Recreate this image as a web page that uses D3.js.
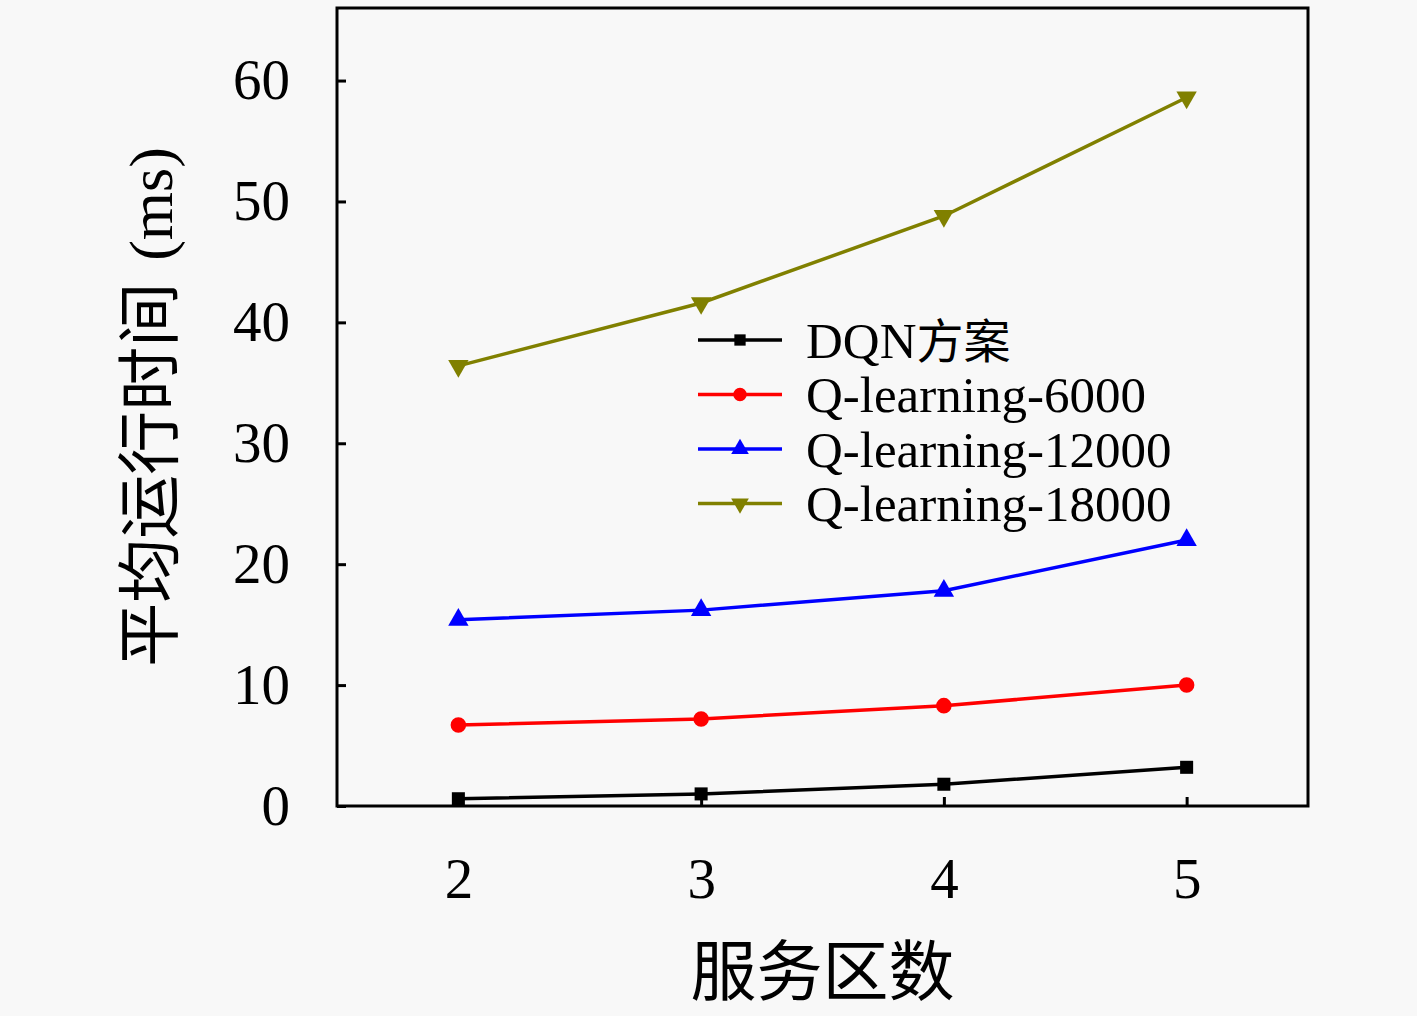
<!DOCTYPE html>
<html>
<head>
<meta charset="utf-8">
<script src="https://cdn.jsdelivr.net/npm/d3@7"></script>
<style>
  body { margin: 0; background: #f8f8f8; }
  svg { display: block; }
  .tick-label { font-family: "Liberation Serif", "DejaVu Serif", serif; fill: #000; }
  .cjk { font-family: "Noto Sans CJK SC", sans-serif; fill: #000; }
</style>
</head>
<body>
<div id="chart"></div>
<script>
// Data
var categories = [2, 3, 4, 5];
var dqnValues = [0.6, 1.0, 1.8, 3.2];
var q6000Values = [6.7, 7.2, 8.3, 10.0];
var q12000Values = [15.4, 16.2, 17.8, 22.0];
var q18000Values = [36.4, 41.6, 48.8, 58.6];
var seriesNames = ["DQN方案", "Q-learning-6000", "Q-learning-12000", "Q-learning-18000"];
var yTicks = [0, 10, 20, 30, 40, 50, 60];

var series = [
  { name: seriesNames[0], values: dqnValues, color: "#000000", symbol: d3.symbolSquare, size: 170, rot: 0 },
  { name: seriesNames[1], values: q6000Values, color: "#ff0000", symbol: d3.symbolCircle, size: 190, rot: 0 },
  { name: seriesNames[2], values: q12000Values, color: "#0000ff", symbol: d3.symbolTriangle, size: 180, rot: 0 },
  { name: seriesNames[3], values: q18000Values, color: "#808000", symbol: d3.symbolTriangle, size: 180, rot: 180 }
];

// Dimensions
var W = 1417, H = 1016;
var plotLeft = 337, plotRight = 1308, plotTop = 8, plotBottom = 806;

var svg = d3.select("#chart").append("svg")
  .attr("width", W)
  .attr("height", H);

svg.append("rect").attr("width", W).attr("height", H).attr("fill", "#f8f8f8");

var x = d3.scaleLinear().domain([1.5, 5.5]).range([plotLeft, plotRight]);
var y = d3.scaleLinear().domain([0, 66]).range([plotBottom, plotTop]);

// Axes (ticks point inward)
var xAxis = svg.append("g")
  .attr("transform", "translate(0," + plotBottom + ")")
  .call(d3.axisBottom(x).tickValues(categories).tickSize(-9).tickPadding(52).tickFormat(d3.format("d")));
var yAxis = svg.append("g")
  .attr("transform", "translate(" + plotLeft + ",0)")
  .call(d3.axisLeft(y).tickValues(yTicks).tickSize(-9).tickPadding(47));

[xAxis, yAxis].forEach(function(a) {
  a.select(".domain").remove();
  a.selectAll(".tick line").attr("stroke", "#000").attr("stroke-width", 3);
  a.selectAll(".tick text")
    .attr("class", "tick-label")
    .style("font-size", "57px")
    .attr("fill", "#000");
});

// Frame
svg.append("rect")
  .attr("x", plotLeft).attr("y", plotTop)
  .attr("width", plotRight - plotLeft).attr("height", plotBottom - plotTop)
  .attr("fill", "none").attr("stroke", "#000").attr("stroke-width", 3);

// Lines and markers
var line = d3.line()
  .x(function(d, i) { return x(categories[i]); })
  .y(function(d) { return y(d); });

series.forEach(function(s) {
  svg.append("path")
    .datum(s.values)
    .attr("d", line)
    .attr("fill", "none")
    .attr("stroke", s.color)
    .attr("stroke-width", 3.5);

  svg.selectAll(null)
    .data(s.values)
    .enter()
    .append("path")
    .attr("d", d3.symbol().type(s.symbol).size(s.size))
    .attr("transform", function(d, i) {
      return "translate(" + x(categories[i]) + "," + y(d) + ") rotate(" + s.rot + ")";
    })
    .attr("fill", s.color);
});

// Legend
var legend = svg.append("g").attr("transform", "translate(698,340)");
series.forEach(function(s, i) {
  var g = legend.append("g").attr("transform", "translate(0," + (i * 54.5) + ")");
  g.append("line")
    .attr("x1", 0).attr("x2", 84)
    .attr("stroke", s.color).attr("stroke-width", 3.5);
  g.append("path")
    .attr("d", d3.symbol().type(s.symbol).size(s.size * 0.75))
    .attr("transform", "translate(42,0) rotate(" + s.rot + ")")
    .attr("fill", s.color);
  var t = g.append("text")
    .attr("x", 108)
    .attr("dy", "0.35em")
    .style("font-size", "51px")
    .attr("class", "tick-label");
  if (i === 0) {
    t.append("tspan").text("DQN");
    t.append("tspan").attr("class", "cjk").style("font-size", "47px").text("方案");
  } else {
    t.text(s.name);
  }
});

// Axis titles
svg.append("text")
  .attr("class", "cjk")
  .attr("x", (plotLeft + plotRight) / 2)
  .attr("y", 995)
  .attr("text-anchor", "middle")
  .style("font-size", "66px")
  .text("服务区数");

var yTitle = svg.append("text")
  .attr("class", "cjk")
  .attr("transform", "translate(172," + ((plotTop + plotBottom) / 2) + ") rotate(-90)")
  .attr("text-anchor", "middle")
  .style("font-size", "64px");
yTitle.append("tspan").text("平均运行时间");
yTitle.append("tspan").attr("class", "tick-label").attr("dx", 22).style("font-size", "62px").text("(ms)");
</script>
</body>
</html>
